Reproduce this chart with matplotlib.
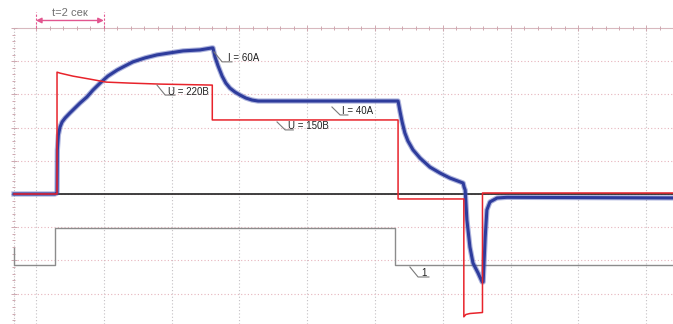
import matplotlib
matplotlib.use("Agg")
import matplotlib.pyplot as plt
from matplotlib import font_manager
from matplotlib.collections import LineCollection

# ---- recorded traces (time in s, amplitude in screen divisions) ----
current_t = [-0.65, 0.56, 0.62, 0.63, 0.66, 0.71, 0.77, 0.86, 1.00, 1.15, 1.30,
             1.50, 1.68, 1.89, 2.12, 2.39, 2.63, 2.86, 3.22, 3.57, 3.95, 4.34,
             4.84, 5.19, 5.22, 5.28, 5.37, 5.49, 5.60, 5.72, 5.87, 6.02, 6.19,
             6.37, 6.55, 10.68, 10.74, 10.80, 10.88, 10.97, 11.12, 11.33, 11.62,
             11.92, 12.21, 12.60, 12.63, 12.66, 12.71, 12.80, 12.89, 13.04, 13.16,
             13.19, 13.25, 13.30, 13.39, 13.60, 13.89, 19.0]
current_v = [0.0, 0.0, 0.03, 1.33, 1.78, 2.02, 2.17, 2.29, 2.44, 2.59, 2.74,
             2.92, 3.13, 3.34, 3.55, 3.73, 3.86, 3.98, 4.10, 4.19, 4.25, 4.31,
             4.34, 4.40, 4.40, 4.13, 3.86, 3.55, 3.34, 3.19, 3.07, 2.98, 2.89,
             2.83, 2.80, 2.80, 2.47, 2.17, 1.84, 1.60, 1.33, 1.08, 0.81,
             0.63, 0.48, 0.33, 0.20, 0.12, -0.78, -1.60, -2.08, -2.38, -2.65,
             -2.65, -1.30, -0.48, -0.24, -0.12, -0.10, -0.12]

voltage_t = [-0.65, 0.62, 0.62, 0.71, 1.09, 1.59, 2.07, 2.77, 3.66, 5.20, 5.20,
             10.68, 10.68, 12.62, 12.62, 12.68, 12.80, 13.17, 13.17, 19.0]
voltage_v = [0.0, 0.0, 3.67, 3.64, 3.55, 3.46, 3.37, 3.34, 3.31, 3.28, 2.23,
             2.23, -0.15, -0.15, -3.70, -3.63, -3.60, -3.57, 0.03, 0.03]

control_t = [-0.65, -0.65, 0.56, 0.56, 10.59, 10.59, 19.0]
control_v = [-1.63, -2.14, -2.14, -1.02, -1.02, -2.14, -2.14]

# callouts: (text, trace point, elbow point, shelf end)
callouts = [
    ("I = 60A",  (5.25, 4.28), (5.49, 3.98), (5.78, 3.98)),
    ("U = 220B", (3.57, 3.28), (3.81, 2.98), (4.10, 2.98)),
    ("I = 40A",  (8.73, 2.62), (8.97, 2.38), (9.20, 2.38)),
    ("U = 150B", (7.11, 2.17), (7.35, 1.93), (7.59, 1.93)),
    ("1",        (11.03, -2.20), (11.27, -2.50), (11.59, -2.50)),
]
callout_text_x = [5.66, 3.89, 9.03, 7.43, 11.36]

period_label = "t=2 сек"

# ---- screen geometry ----
X0, X1 = -1.062, 18.79
Y0, Y1 = -3.916, 5.843
LEFT, TOP = -0.66, 5.0
PX_T = 1 / 33.9   # one pixel in seconds
PX_V = 1 / 33.2   # one pixel in divisions

avail = {f.name for f in font_manager.fontManager.ttflist}
if "Liberation Sans Narrow" in avail:
    label_font, label_size, title_size = "Liberation Sans Narrow", 8, 9.5
else:
    label_font, label_size, title_size = "Liberation Sans", 7, 8

fig = plt.figure(figsize=(6.73, 3.24), dpi=100)
ax = fig.add_axes([0, 0, 1, 1])
ax.set_xlim(X0, X1)
ax.set_ylim(Y0, Y1)
ax.axis("off")

# graticule
for k in range(0, 10):
    ax.plot([2 * k, 2 * k], [Y0, TOP], color="#c4c0c4", lw=0.8,
            ls=(0, (1, 2)), zorder=1)
for k in range(-3, 5):
    ax.plot([LEFT, X1], [k, k], color="#e6b4bd", lw=0.8,
            ls=(0, (1, 2)), zorder=1)
ax.plot([LEFT, X1], [TOP, TOP], color="#d8b8be", lw=0.8, zorder=1)
ax.plot([LEFT, LEFT], [Y0, TOP], color="#c8c0c4", lw=0.8,
        ls=(0, (1, 1.5)), zorder=1)

segs = []
i = 0
t = 0.0
while t < X1:
    h = 3 if i % 5 == 0 else 1.6
    segs.append([(t, TOP - h * PX_V), (t, TOP + h * PX_V)])
    i += 1
    t = i * 0.4
j = 0
v = TOP
while v > Y0:
    h = 3 if j % 5 == 0 else 1.6
    segs.append([(LEFT - h * PX_T, v), (LEFT + h * PX_T, v)])
    j += 1
    v = TOP - j * 0.2
ax.add_collection(LineCollection(segs, colors="#cfa8b0", linewidths=0.7,
                                 zorder=1))

# traces
ax.plot(control_t, control_v, color="#8c8c8c", lw=1.0, zorder=2)
ax.plot([LEFT, X1], [0, 0], color="#202020", lw=1.2, zorder=3)
ax.plot(current_t, current_v, color="#4a58b4", lw=3.8, alpha=0.45, zorder=4,
        solid_joinstyle="round")
ax.plot(current_t, current_v, color="#2e3c9c", lw=2.2, zorder=4,
        solid_joinstyle="round")
ax.plot(voltage_t, voltage_v, color="#e8232b", lw=1.1, zorder=5)

# callouts
for (txt, p0, p1, p2), tx in zip(callouts, callout_text_x):
    ax.plot([p0[0], p1[0], p2[0]], [p0[1], p1[1], p2[1]], color="#7a7a7a",
            lw=0.8, zorder=6)
    ax.text(tx, p1[1] + 0.5 * PX_V, txt, fontsize=label_size,
            family=label_font, color="#222222", ha="left", va="baseline",
            zorder=7)

# time-scale marker above the screen
pink = "#e2558f"
for x in (0, 2):
    ax.plot([x, x], [TOP, TOP + 16 * PX_V], color=pink, lw=0.8,
            ls=(0, (2, 1.5)), zorder=6, clip_on=False)
ax.annotate("", xy=(0, TOP + 7.5 * PX_V), xytext=(2, TOP + 7.5 * PX_V),
            arrowprops=dict(arrowstyle="<|-|>", color=pink, lw=1.0,
                            mutation_scale=8, shrinkA=0, shrinkB=0),
            zorder=6)
ax.text(1, TOP + 14.5 * PX_V, period_label, fontsize=title_size,
        family=label_font, color="#707070", ha="center", va="center",
        zorder=7)

fig.savefig("out.png", dpi=100)
